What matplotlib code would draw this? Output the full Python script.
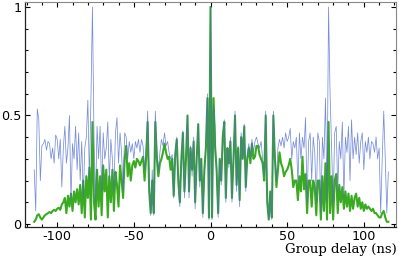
import numpy as np
import matplotlib
matplotlib.use("Agg")
import matplotlib.pyplot as plt
from matplotlib.ticker import MultipleLocator

# Group delay grid (ns), 1 ns steps from -115 to 116
delay = np.arange(-115, 117)

# green trace (normalised amplitude)
green = [
    0.01, 0.02, 0.04, 0.045, 0.03, 0.02, 0.03, 0.04, 0.045, 0.05,       # -115..-106
    0.055, 0.05, 0.06, 0.065, 0.06, 0.07, 0.075, 0.065, 0.09, 0.10,     # -105..-96
    0.12, 0.05, 0.13, 0.08, 0.14, 0.06, 0.15, 0.10, 0.16, 0.09,         # -95..-86
    0.18, 0.05, 0.20, 0.03, 0.22, 0.12, 0.26, 0.02, 0.47, 0.10,         # -85..-76
    0.02, 0.25, 0.08, 0.22, 0.04, 0.27, 0.15, 0.25, 0.03, 0.22,         # -75..-66
    0.10, 0.25, 0.06, 0.24, 0.18, 0.08, 0.27, 0.20, 0.12, 0.30,         # -65..-56
    0.36, 0.22, 0.28, 0.20, 0.27, 0.29, 0.26, 0.30, 0.29, 0.27,         # -55..-46
    0.29, 0.31, 0.20, 0.30, 0.47, 0.15, 0.05, 0.20, 0.05, 0.47,         # -45..-36
    0.30, 0.22, 0.28, 0.30, 0.33, 0.37, 0.33, 0.30, 0.31, 0.25,         # -35..-26
    0.30, 0.13, 0.32, 0.39, 0.20, 0.10, 0.30, 0.42, 0.15, 0.30,         # -25..-16
    0.50, 0.15, 0.35, 0.25, 0.38, 0.10, 0.30, 0.46, 0.20, 0.30,         # -15..-6
    0.05, 0.25, 0.35, 0.58, 0.03, 1.00, 0.03, 0.58, 0.35, 0.25,         # -5..4
    0.05, 0.30, 0.20, 0.40, 0.47, 0.12, 0.35, 0.28, 0.38, 0.12,         # 5..14
    0.30, 0.50, 0.18, 0.35, 0.11, 0.40, 0.30, 0.45, 0.17, 0.30,         # 15..24
    0.35, 0.28, 0.37, 0.30, 0.31, 0.36, 0.36, 0.32, 0.30, 0.28,         # 25..34
    0.20, 0.50, 0.10, 0.02, 0.15, 0.03, 0.50, 0.30, 0.17, 0.25,         # 35..44
    0.33, 0.28, 0.26, 0.22, 0.24, 0.25, 0.27, 0.30, 0.25, 0.17,         # 45..54
    0.20, 0.20, 0.11, 0.22, 0.15, 0.31, 0.16, 0.23, 0.05, 0.20,         # 55..64
    0.20, 0.08, 0.20, 0.17, 0.04, 0.20, 0.20, 0.02, 0.22, 0.06,         # 65..74
    0.28, 0.02, 0.47, 0.05, 0.22, 0.02, 0.20, 0.23, 0.05, 0.18,         # 75..84
    0.10, 0.17, 0.07, 0.15, 0.08, 0.14, 0.06, 0.13, 0.07, 0.12,         # 85..94
    0.14, 0.08, 0.12, 0.07, 0.10, 0.06, 0.09, 0.07, 0.08, 0.07,         # 95..104
    0.06, 0.07, 0.05, 0.05, 0.04, 0.03, 0.03, 0.05, 0.06, 0.03,         # 105..114
    0.01, 0.01,                                                         # 115..116
]

# blue trace (normalised amplitude)
blue = [
    0.25, 0.06, 0.53, 0.48, 0.20, 0.36, 0.37, 0.39, 0.34, 0.38,         # -115..-106
    0.37, 0.30, 0.35, 0.28, 0.41, 0.39, 0.30, 0.39, 0.17, 0.35,         # -105..-96
    0.45, 0.28, 0.35, 0.50, 0.11, 0.37, 0.30, 0.45, 0.25, 0.42,         # -95..-86
    0.20, 0.38, 0.12, 0.35, 0.40, 0.57, 0.20, 0.58, 1.00, 0.40,         # -85..-76
    0.10, 0.45, 0.30, 0.45, 0.15, 0.42, 0.30, 0.35, 0.47, 0.20,         # -75..-66
    0.39, 0.30, 0.15, 0.42, 0.49, 0.28, 0.42, 0.33, 0.15, 0.42,         # -65..-56
    0.40, 0.30, 0.38, 0.33, 0.37, 0.30, 0.38, 0.35, 0.39, 0.33,         # -55..-46
    0.39, 0.36, 0.25, 0.35, 0.52, 0.20, 0.04, 0.25, 0.04, 0.52,         # -45..-36
    0.35, 0.24, 0.33, 0.39, 0.36, 0.42, 0.36, 0.38, 0.33, 0.30,         # -35..-26
    0.32, 0.12, 0.33, 0.40, 0.18, 0.08, 0.30, 0.43, 0.12, 0.30,         # -25..-16
    0.50, 0.12, 0.36, 0.22, 0.40, 0.07, 0.32, 0.46, 0.17, 0.30,         # -15..-6
    0.03, 0.22, 0.37, 0.60, 0.02, 1.00, 0.02, 0.55, 0.45, 0.20,         # -5..4
    0.03, 0.30, 0.18, 0.42, 0.48, 0.10, 0.35, 0.26, 0.40, 0.10,         # 5..14
    0.30, 0.52, 0.15, 0.36, 0.08, 0.42, 0.30, 0.46, 0.15, 0.32,         # 15..24
    0.37, 0.30, 0.39, 0.33, 0.38, 0.40, 0.37, 0.35, 0.38, 0.30,         # 25..34
    0.22, 0.52, 0.10, 0.02, 0.15, 0.02, 0.52, 0.32, 0.20, 0.35,         # 35..44
    0.39, 0.36, 0.40, 0.35, 0.42, 0.38, 0.40, 0.44, 0.30, 0.38,         # 45..54
    0.35, 0.40, 0.18, 0.42, 0.30, 0.40, 0.35, 0.49, 0.10, 0.38,         # 55..64
    0.42, 0.20, 0.40, 0.33, 0.10, 0.42, 0.38, 0.05, 0.40, 0.30,         # 65..74
    0.58, 0.10, 1.00, 0.60, 0.35, 0.10, 0.42, 0.45, 0.15, 0.38,         # 75..84
    0.30, 0.47, 0.12, 0.40, 0.33, 0.45, 0.20, 0.48, 0.30, 0.40,         # 85..94
    0.32, 0.42, 0.28, 0.38, 0.42, 0.25, 0.38, 0.33, 0.40, 0.30,         # 95..104
    0.38, 0.37, 0.33, 0.40, 0.30, 0.35, 0.05, 0.30, 0.52, 0.30,         # 105..114
    0.05, 0.24,                                                         # 115..116
]

xticks = [-100, -50, 0, 50, 100]
yticks = [0, 0.5, 1]
ytick_labels = ["0", "0.5", "1"]
xlabel = "Group delay (ns)"

plt.rcParams['axes.unicode_minus'] = False
fig = plt.figure(figsize=(3.99, 2.58), dpi=100)
ax = fig.add_axes([25/399, 1 - 227/258, 371/399, 225/258])

ax.plot(delay, green, color='#3aaa22', lw=1.5, solid_joinstyle='round', zorder=2)
ax.plot(delay, blue, color='#4a68d0', lw=0.55, alpha=0.75, zorder=3)

ax.set_xlim(-121, 121)
ax.set_ylim(-0.014, 1.023)
ax.set_xticks(xticks)
ax.set_xticklabels([str(t) for t in xticks])
ax.set_yticks(yticks)
ax.set_yticklabels(ytick_labels)
ax.xaxis.set_minor_locator(MultipleLocator(10))
ax.yaxis.set_minor_locator(MultipleLocator(0.1))
ax.tick_params(which='both', direction='in', top=True, right=True,
               labelsize=9.2, width=0.8)
ax.tick_params(which='major', length=3.5)
ax.tick_params(which='minor', length=2.5)
ax.tick_params(axis='x', pad=2)
ax.tick_params(axis='y', pad=2.5)
for s in ['left', 'bottom']:
    ax.spines[s].set_color('#222222')
    ax.spines[s].set_linewidth(0.9)
for s in ['top', 'right']:
    ax.spines[s].set_color('#888888')
    ax.spines[s].set_linewidth(0.8)

fig.text(397/399, 1 - 252.5/258, xlabel, ha='right', va='baseline',
         family='DejaVu Serif', fontsize=9.5)

fig.savefig('out.png', dpi=100)
